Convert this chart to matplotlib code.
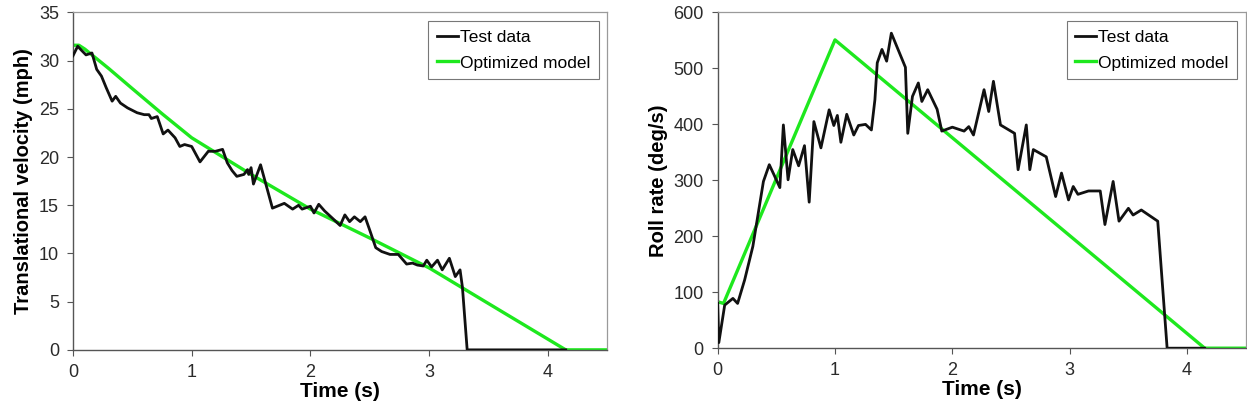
import matplotlib
matplotlib.use("Agg")
import matplotlib.pyplot as plt

plt.rcParams['font.family'] = ['Liberation Sans', 'DejaVu Sans']

# Left panel: translational velocity
vel_test_t = [0.0, 0.04, 0.07, 0.11, 0.16, 0.2, 0.24, 0.28, 0.33, 0.36, 0.4, 0.46, 0.54, 0.6,
              0.64, 0.66, 0.71, 0.76, 0.8, 0.86, 0.9, 0.94, 1.0, 1.07, 1.14, 1.2, 1.26, 1.3,
              1.34, 1.38, 1.44, 1.47, 1.48, 1.5, 1.52, 1.58, 1.68, 1.78, 1.85, 1.9, 1.93, 2.0,
              2.03, 2.07, 2.12, 2.19, 2.25, 2.29, 2.33, 2.37, 2.42, 2.46, 2.5, 2.55, 2.6, 2.67,
              2.74, 2.81, 2.86, 2.9, 2.95, 2.98, 3.02, 3.07, 3.11, 3.17, 3.22, 3.26, 3.28, 3.32, 4.15]
vel_test_v = [30.5, 31.5, 31.1, 30.6, 30.8, 29.1, 28.4, 27.2, 25.8, 26.3, 25.6, 25.1, 24.6, 24.4,
              24.4, 24.0, 24.2, 22.4, 22.8, 22.0, 21.1, 21.3, 21.1, 19.5, 20.6, 20.6, 20.8, 19.4,
              18.6, 18.0, 18.2, 18.7, 18.2, 18.9, 17.2, 19.2, 14.7, 15.2, 14.6, 15.0, 14.6, 14.9,
              14.2, 15.1, 14.4, 13.6, 12.9, 14.0, 13.3, 13.8, 13.3, 13.8, 12.4, 10.6, 10.2, 9.9,
              9.9, 8.9, 9.0, 8.8, 8.7, 9.3, 8.6, 9.3, 8.3, 9.5, 7.6, 8.3, 6.5, 0.0, 0.0]
vel_model_t = [0.0, 0.05, 0.1, 0.3, 0.5, 0.75, 1.0, 1.5, 2.0, 2.5, 3.0, 3.5, 4.15, 4.5]
vel_model_v = [31.6, 31.6, 31.2, 29.2, 27.1, 24.5, 22.0, 18.2, 14.6, 11.6, 8.5, 4.8, 0.0, 0.0]

# Right panel: roll rate
roll_test_t = [0.0, 0.01, 0.06, 0.13, 0.17, 0.23, 0.3, 0.39, 0.44, 0.48, 0.53, 0.56, 0.6, 0.64,
               0.69, 0.74, 0.78, 0.82, 0.88, 0.95, 0.99, 1.02, 1.05, 1.1, 1.16, 1.2, 1.26, 1.31,
               1.34, 1.36, 1.4, 1.44, 1.48, 1.6, 1.62, 1.66, 1.71, 1.74, 1.79, 1.87, 1.91, 2.0,
               2.1, 2.14, 2.18, 2.27, 2.31, 2.35, 2.41, 2.53, 2.56, 2.63, 2.66, 2.69, 2.8, 2.88,
               2.93, 2.99, 3.03, 3.07, 3.16, 3.26, 3.3, 3.37, 3.42, 3.5, 3.54, 3.61, 3.75, 3.83, 4.15]
roll_test_v = [80, 10, 77, 89, 80, 122, 182, 298, 328, 310, 287, 399, 301, 355,
               326, 362, 261, 405, 358, 426, 398, 416, 368, 418, 381, 398, 400, 390,
               444, 510, 534, 513, 563, 502, 384, 450, 474, 441, 462, 427, 388, 395,
               388, 396, 381, 462, 423, 477, 399, 384, 319, 399, 319, 355, 342, 271,
               313, 265, 289, 275, 281, 281, 221, 298, 227, 250, 238, 247, 227, 0, 0]
roll_model_t = [0.0, 0.05, 1.0, 4.15, 4.5]
roll_model_v = [83, 80, 551, 0, 0]

x_ticks = [0, 1, 2, 3, 4]
left_yticks = [0, 5, 10, 15, 20, 25, 30, 35]
right_yticks = [0, 100, 200, 300, 400, 500, 600]

BLACK = '#111111'
GREEN = '#1ee81e'

fig = plt.figure(figsize=(12.47, 4.16), dpi=100)
ax1 = fig.add_axes([0.0585, 0.159, 0.4285, 0.811])
ax2 = fig.add_axes([0.5755, 0.163, 0.4235, 0.807])


def style(ax):
    for side in ['top', 'right']:
        ax.spines[side].set_color('#9a9a9a')
        ax.spines[side].set_linewidth(0.9)
    for side in ['left', 'bottom']:
        ax.spines[side].set_color('#555555')
        ax.spines[side].set_linewidth(1.0)
    ax.tick_params(axis='both', direction='out', length=4, width=0.8, color='#555555',
                   labelsize=13, labelcolor='#2a2a2a', pad=6)
    ax.set_xlim(0, 4.5)
    ax.set_xticks(x_ticks)
    ax.set_xlabel('Time (s)', fontsize=15, fontweight='bold', labelpad=1)
    leg = ax.legend(loc='upper right', fontsize=12.5, frameon=True, fancybox=False,
                    edgecolor='#555555', handlelength=1.2, handletextpad=0.1,
                    borderaxespad=0.5, labelspacing=0.6, borderpad=0.5)
    leg.get_frame().set_linewidth(0.8)


ax1.plot(vel_test_t, vel_test_v, color=BLACK, lw=2.0, label='Test data', zorder=3)
ax1.plot(vel_model_t, vel_model_v, color=GREEN, lw=2.4, label='Optimized model', zorder=2)
ax1.set_ylim(0, 35)
ax1.set_yticks(left_yticks)
ax1.set_ylabel('Translational velocity (mph)', fontsize=14.5, fontweight='bold', labelpad=4)
style(ax1)

ax2.plot(roll_test_t, roll_test_v, color=BLACK, lw=2.0, label='Test data', zorder=3)
ax2.plot(roll_model_t, roll_model_v, color=GREEN, lw=2.4, label='Optimized model', zorder=2)
ax2.set_ylim(0, 600)
ax2.set_yticks(right_yticks)
ax2.set_ylabel('Roll rate (deg/s)', fontsize=14.5, fontweight='bold', labelpad=4)
style(ax2)

fig.savefig('out.png', dpi=100)
